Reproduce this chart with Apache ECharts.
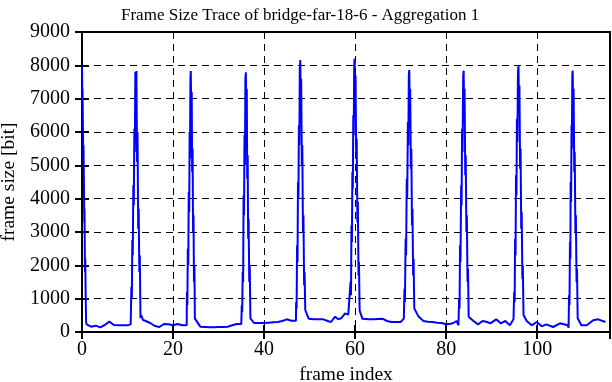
<!DOCTYPE html>
<html lang="en">
<head>
    <meta charset="UTF-8">
    <title>Frame Size Trace</title>
    <style>
        html, body { margin: 0; padding: 0; background: #fff; }
    </style>
</head>
<body>
<div id="chart" style="width:612px; height:382px;"></div>
<script src="https://cdn.jsdelivr.net/npm/echarts@6/dist/echarts.min.js"></script>
<script>
    // x ticks / y ticks
    var xTicks = [0, 20, 40, 60, 80, 100]
    var yTicks = [0, 1000, 2000, 3000, 4000, 5000, 6000, 7000, 8000, 9000]

    // trace, one small array per GOP: [frame index, bits]
    var gop0 = [[0, 7960], [0.08, 6900], [0.12, 7300], [0.2, 6200], [0.28, 5100], [0.33, 5600], [0.42, 4500],
        [0.5, 3300], [0.55, 3700], [0.65, 1800], [0.72, 2200], [0.8, 1160], [0.9, 310], [1, 230], [2, 160],
        [3, 190], [4, 140], [5, 210], [6, 310], [7, 210], [8, 200], [9, 200], [10, 200], [10.7, 230]]
    var gop1 = [[10.77, 270], [10.85, 1350], [10.95, 1000], [11.05, 2760], [11.15, 2300], [11.28, 4400],
        [11.38, 3800], [11.5, 6100], [11.6, 5400], [11.72, 7800], [11.82, 7000], [11.95, 7830], [12.1, 5100],
        [12.2, 6000], [12.35, 3100], [12.45, 3700], [12.6, 1800], [12.7, 2300], [12.85, 420], [13.0, 510],
        [13.4, 360], [14, 330], [15, 270], [16, 180], [17, 150], [18, 240], [19, 230], [20, 200], [21, 240],
        [22, 200], [23, 200]]
    var gop2 = [[23.05, 1200], [23.15, 800], [23.25, 2500], [23.35, 2000], [23.45, 4200], [23.55, 3600],
        [23.65, 6000], [23.72, 5200], [23.82, 7600], [23.9, 7830], [24.0, 6500], [24.1, 7200], [24.2, 4800],
        [24.3, 5500], [24.4, 3000], [24.5, 3500], [24.6, 1500], [24.7, 2000], [24.8, 400], [25, 380], [26, 160],
        [27, 150], [28, 140], [29, 140], [30, 150], [31, 150], [32, 160], [33, 200], [34, 240], [35, 240]]
    var gop3 = [[35.1, 800], [35.2, 600], [35.3, 1800], [35.4, 1500], [35.5, 4100], [35.6, 3500], [35.7, 5900],
        [35.8, 5000], [35.9, 7600], [36.0, 7790], [36.1, 6300], [36.2, 7300], [36.3, 4600], [36.4, 5300],
        [36.5, 2800], [36.6, 3400], [36.75, 1500], [36.85, 2000], [37.0, 410], [37.2, 410], [37.8, 270],
        [38, 260], [39, 270], [40, 270], [41, 280], [42, 290], [43, 300], [44, 330], [45, 380], [46, 340],
        [47, 340]]
    var gop4 = [[47.05, 900], [47.15, 700], [47.25, 2600], [47.35, 2100], [47.45, 4500], [47.55, 4000],
        [47.65, 6200], [47.75, 5600], [47.85, 7900], [47.95, 8160], [48.05, 6900], [48.15, 7600], [48.3, 5000],
        [48.4, 5600], [48.55, 3000], [48.65, 3500], [48.8, 1400], [48.9, 1800], [49.05, 660], [49.3, 650],
        [49.8, 400], [50, 380], [51, 380], [52, 380], [53, 380], [54, 330], [54.7, 300], [55.6, 460],
        [56.3, 380], [57, 420], [57.8, 560], [58.5, 520], [58.8, 500]]
    var gop5 = [[59.0, 1500], [59.1, 1100], [59.2, 3200], [59.3, 2700], [59.4, 4800], [59.5, 4300],
        [59.6, 6500], [59.7, 5900], [59.8, 8000], [59.9, 8200], [60.0, 6900], [60.1, 7700], [60.25, 5200],
        [60.35, 5800], [60.5, 3300], [60.6, 3900], [60.75, 1700], [60.85, 2100], [61.0, 640], [61.2, 620],
        [61.6, 400], [62, 380], [63, 380], [64, 380], [65, 390], [66, 400], [67, 330], [68, 300], [69, 300],
        [70, 300], [70.7, 400]]
    var gop6 = [[70.85, 1300], [70.95, 900], [71.1, 2800], [71.2, 2300], [71.35, 4600], [71.45, 4000],
        [71.6, 6300], [71.7, 5600], [71.8, 7700], [71.9, 7860], [72.0, 6600], [72.1, 7300], [72.25, 4900],
        [72.35, 5500], [72.5, 3200], [72.6, 3700], [72.75, 1700], [72.85, 2200], [73.0, 710], [73.2, 700],
        [73.9, 470], [75, 330], [76, 310], [77, 300], [78, 280], [79, 270], [80, 230], [81, 250], [81.6, 270],
        [82.3, 330], [82.7, 200]]
    var gop7 = [[82.85, 1000], [82.95, 700], [83.05, 2600], [83.15, 2100], [83.3, 4400], [83.4, 3800],
        [83.5, 6100], [83.6, 5400], [83.75, 7700], [83.85, 7840], [83.95, 6600], [84.05, 7300], [84.2, 4700],
        [84.3, 5300], [84.45, 3000], [84.55, 3500], [84.7, 1500], [84.8, 1900], [84.95, 460], [85.2, 450],
        [86, 330], [87, 230], [88, 330], [89, 300], [89.7, 260], [91, 380], [92, 260], [93, 330], [94, 200],
        [94.8, 380]]
    var gop8 = [[94.95, 1200], [95.05, 900], [95.15, 2800], [95.25, 2300], [95.35, 4700], [95.45, 4100],
        [95.55, 6400], [95.65, 5700], [95.78, 7800], [95.9, 7980], [96.0, 6700], [96.1, 7400], [96.25, 4900],
        [96.35, 5500], [96.5, 3100], [96.6, 3600], [96.75, 1600], [96.85, 2000], [97.0, 510], [97.7, 330],
        [98.8, 200], [99.9, 300], [101, 170], [102, 230], [103.5, 150], [105, 260], [106.7, 200], [106.9, 130]]
    var gop9 = [[107.0, 1100], [107.1, 800], [107.2, 2700], [107.3, 2200], [107.35, 4500], [107.45, 3900],
        [107.55, 6200], [107.62, 5500], [107.72, 7700], [107.8, 7840], [107.9, 6600], [108.0, 7300],
        [108.15, 4800], [108.25, 5400], [108.4, 3000], [108.5, 3500], [108.65, 1500], [108.75, 1900],
        [108.9, 410], [109.7, 200], [110.9, 200], [112.3, 350], [113.4, 380], [115, 300]]

    var trace = [].concat(gop0, gop1, gop2, gop3, gop4, gop5, gop6, gop7, gop8, gop9)

    var font = '"Liberation Serif", "DejaVu Serif", serif'
    var dashed = { show: true, lineStyle: { color: '#000', width: 1, type: [7, 5] } }
    var ticks = { show: true, inside: true, length: 7, lineStyle: { color: '#000', width: 2 } }

    var chart = echarts.init(document.getElementById('chart'), null, { renderer: 'canvas' })
    chart.setOption({
        animation: false,
        backgroundColor: '#fff',
        title: {
            text: 'Frame Size Trace of bridge-far-18-6 - Aggregation 1',
            left: 116,
            top: 2,
            textStyle: { fontFamily: font, fontSize: 17, fontWeight: 'normal', color: '#000' }
        },
        grid: {
            left: 82, right: 2, top: 32, bottom: 50,
            outerBoundsMode: 'none', containLabel: false,
            show: true, borderColor: '#000', borderWidth: 2, backgroundColor: 'transparent'
        },
        xAxis: [{
            type: 'value', min: 0, max: 116, interval: 20,
            name: 'frame index', nameLocation: 'middle', nameGap: 30,
            nameTextStyle: { fontFamily: font, fontSize: 19.5, color: '#000' },
            axisLine: { show: false },
            axisTick: ticks,
            axisLabel: {
                fontFamily: font, fontSize: 20, color: '#000', margin: 8, showMaxLabel: false,
                formatter: function (v) { return xTicks.indexOf(v) >= 0 ? String(v) : '' }
            },
            splitLine: dashed
        }, {
            type: 'value', position: 'top', min: 0, max: 116, interval: 20,
            axisLine: { show: false },
            axisTick: ticks,
            axisLabel: { show: false },
            splitLine: { show: false }
        }],
        yAxis: [{
            type: 'value', min: 0, max: 9000, interval: 1000,
            name: 'frame size [bit]', nameLocation: 'middle', nameGap: 61,
            nameTextStyle: { fontFamily: font, fontSize: 19.5, color: '#000' },
            axisLine: { show: false },
            axisTick: ticks,
            axisLabel: {
                fontFamily: font, fontSize: 20, color: '#000', margin: 12,
                formatter: function (v) { return yTicks.indexOf(v) >= 0 ? String(v) : '' }
            },
            splitLine: dashed
        }, {
            type: 'value', position: 'right', min: 0, max: 9000, interval: 1000,
            axisLine: { show: false },
            axisTick: ticks,
            axisLabel: { show: false },
            splitLine: { show: false }
        }],
        series: [{
            type: 'line',
            data: trace,
            showSymbol: false,
            symbol: 'none',
            clip: true,
            lineStyle: { color: '#0000ff', width: 2 },
            z: 3
        }]
    })
</script>
</body>
</html>
